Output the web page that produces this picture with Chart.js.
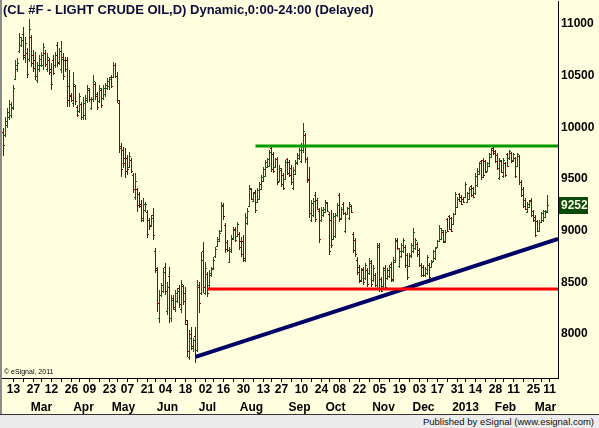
<!DOCTYPE html>
<html>
<head>
<meta charset="utf-8">
<script src="https://cdn.jsdelivr.net/npm/chart.js@4.4.1/dist/chart.umd.min.js"></script>
<style>
html, body { margin: 0; padding: 0; background: #ffffe0; overflow: hidden; }
#wrap { position: absolute; left: 0; top: 0; width: 597px; height: 414px; border-left: 2px solid #8c8c8c; }
#footer { position: absolute; left: 0; top: 414px; width: 599px; height: 13px; background: #ececec; border-top: 1px solid #333;
  font: 9.5px 'Liberation Sans', Arial, sans-serif; color: #111; text-align: right; line-height: 13px; }
#footer span { margin-right: 5px; }
</style>
</head>
<body>
<div id="wrap"><canvas id="chart" width="597" height="414"></canvas></div>
<div id="footer"><span>Published by eSignal (www.esignal.com)</span></div>
<script>
// --- Data (daily bars, price x100) ---
const opens = [
  9950,9930,10020,10100,10120,10190,10470,10560,10740,10800,
  10900,10680,10720,10660,10870,10700,10650,10460,10560,10600,
  10600,10720,10560,10650,10560,10650,10600,10800,10630,10560,
  10680,10650,10650,10400,10310,10240,10400,10200,10160,10230,
  10100,10120,10260,10360,10190,10270,10420,10320,10250,10360,
  10280,10320,10380,10400,10490,10490,10600,10500,10240,9800,
  9780,9700,9700,9620,9680,9540,9330,9400,9350,9260,
  9100,9200,9180,9100,9050,9150,8800,8620,8150,8380,
  8420,8650,8220,8560,8150,8350,8240,8320,8440,8240,
  8460,8400,8100,7780,8000,7860,7980,7840,8450,8400,
  8800,8400,8580,8470,8570,8640,8750,8850,8900,9000,
  9250,9050,8890,8700,8800,8920,9020,8950,8970,8900,
  8900,8720,9070,9240,9400,9290,9370,9280,9310,9400,
  9480,9530,9620,9630,9800,9740,9620,9690,9480,9590,
  9540,9500,9690,9660,9610,9410,9550,9650,9700,9670,
  9780,9930,9690,9500,9100,9150,9340,9300,9190,9100,
  9150,9180,9270,9160,9100,8920,8950,9150,9340,9120,
  9260,9000,9160,9120,9240,8970,8910,8720,8650,8520,
  8630,8540,8620,8590,8690,8520,8570,8470,8860,8530,
  8460,8640,8540,8560,8680,8520,8700,8910,8660,8750,
  8800,8840,8760,8660,8750,8800,8830,8870,8810,8670,
  8650,8570,8590,8670,8650,8710,8730,8840,8900,8920,
  8990,8890,9110,9140,9120,9060,9160,9230,9350,9330,
  9310,9330,9280,9310,9430,9410,9360,9440,9550,9670,
  9680,9670,9580,9630,9710,9800,9770,9730,9510,9670,
  9530,9650,9740,9700,9750,9680,9700,9630,9720,9470,
  9400,9300,9180,9230,9300,9190,9130,9090,9000,9080,
  9100,9130,9180
];
const highs = [
  9993,10100,10187,10264,10245,10410,10652,10671,10913,10874,
  10971,10874,10768,11048,10894,10748,10729,10632,10700,10729,
  10816,10748,10720,10671,10622,10700,10729,10826,10768,10836,
  10720,10681,10681,10555,10332,10535,10410,10216,10332,10245,
  10293,10313,10410,10380,10293,10506,10439,10342,10410,10380,
  10410,10429,10477,10487,10506,10632,10622,10535,10264,9848,
  9810,9800,9732,9761,9703,9558,9558,9412,9374,9296,
  9316,9277,9200,9122,9152,9219,8832,8648,8425,8493,
  8638,8687,8503,8648,8377,8377,8425,8445,8474,8522,
  8474,8454,8135,8038,8067,7961,8067,8522,8503,8793,
  8890,8696,8599,8618,8647,8744,8841,8938,9006,9277,
  9267,9073,8909,8841,8957,9035,9035,9083,8986,8938,
  8957,9170,9219,9441,9412,9373,9393,9412,9470,9538,
  9615,9683,9703,9780,9828,9761,9703,9712,9635,9606,
  9557,9683,9703,9683,9635,9615,9683,9751,9799,9848,
  10041,9945,9712,9615,9296,9315,9373,9315,9219,9228,
  9228,9296,9277,9180,9199,9170,9170,9267,9364,9228,
  9277,9180,9228,9277,9248,8986,8928,8744,8667,8638,
  8647,8686,8638,8735,8715,8667,8589,8880,8880,8551,
  8647,8667,8638,8667,8696,8744,8928,8928,8831,8880,
  8928,8860,8783,8783,8880,9025,8928,8889,8831,8686,
  8667,8647,8764,8686,8715,8812,8841,8909,9054,9025,
  9006,9006,9122,9151,9131,9170,9373,9325,9364,9344,
  9325,9470,9373,9422,9441,9422,9557,9606,9664,9683,
  9703,9683,9664,9751,9799,9809,9780,9751,9703,9683,
  9703,9664,9751,9780,9761,9751,9712,9751,9732,9490,
  9422,9315,9277,9296,9315,9199,9151,9102,9102,9180,
  9199,9199,9344
];
const lows = [
  9722,9906,9993,10071,10090,10168,10458,10535,10720,10777,
  10652,10622,10477,10632,10584,10535,10458,10429,10535,10584,
  10555,10584,10535,10506,10361,10506,10574,10584,10603,10526,
  10458,10535,10197,10197,10245,10197,10216,10100,10139,10071,
  10071,10071,10235,10245,10168,10245,10264,10168,10235,10187,
  10264,10293,10361,10361,10380,10477,10477,10235,9752,9519,
  9606,9510,9538,9606,9558,9364,9296,9180,9219,9084,
  9084,9180,8929,9006,9035,8909,8590,8212,8106,8358,
  8396,8377,8183,8106,8116,8232,8212,8299,8251,8203,
  8280,8086,7777,7748,7844,7825,7719,7825,8203,8377,
  8396,8376,8357,8444,8551,8618,8735,8841,8889,8986,
  9102,8783,8793,8686,8783,8909,8889,8938,8812,8744,
  8696,8696,9054,9228,9296,9277,9170,9267,9296,9393,
  9470,9519,9606,9615,9567,9557,9606,9441,9470,9422,
  9393,9490,9538,9519,9441,9393,9538,9635,9683,9654,
  9751,9654,9461,9122,9083,9131,9083,9199,8880,9083,
  9131,9170,9180,8764,8831,8909,8928,9131,9083,9102,
  9151,8977,9151,9102,9170,8783,8744,8570,8493,8502,
  8473,8522,8454,8570,8454,8502,8454,8444,8405,8405,
  8444,8425,8522,8541,8502,8502,8686,8812,8638,8735,
  8783,8638,8522,8647,8735,8783,8812,8744,8647,8551,
  8551,8551,8570,8522,8638,8696,8715,8831,8889,8909,
  8880,8880,8986,9006,8986,9054,9151,9219,9277,9248,
  9267,9315,9267,9296,9325,9315,9344,9422,9538,9490,
  9509,9557,9567,9615,9703,9732,9654,9586,9490,9557,
  9509,9519,9615,9683,9654,9664,9509,9615,9441,9325,
  9219,9199,9170,9219,9131,9083,8938,8986,8986,9073,
  9083,9122,9170
];
const closes = [
  9830,10060,10150,10230,10200,10380,10600,10620,10870,10850,
  10700,10820,10520,10950,10620,10570,10500,10600,10660,10700,
  10780,10610,10680,10540,10420,10530,10700,10620,10740,10660,
  10500,10560,10260,10300,10260,10420,10250,10120,10300,10100,
  10240,10280,10380,10270,10270,10450,10300,10200,10380,10220,
  10380,10410,10450,10470,10400,10600,10500,10260,9820,9600,
  9650,9580,9600,9720,9580,9400,9480,9250,9240,9120,
  9260,9260,8970,9040,9120,8960,8640,8300,8380,8470,
  8600,8420,8450,8150,8330,8260,8400,8420,8290,8480,
  8320,8130,7830,7960,7880,7940,7780,8470,8300,8720,
  8450,8640,8400,8590,8630,8720,8820,8920,8980,9240,
  9140,8820,8810,8820,8930,9010,8910,9060,8840,8770,
  8730,9130,9190,9410,9310,9360,9200,9390,9450,9520,
  9600,9660,9690,9760,9600,9580,9690,9470,9610,9450,
  9410,9660,9560,9540,9470,9590,9660,9730,9780,9820,
  9960,9690,9490,9170,9270,9290,9110,9210,8920,9200,
  9210,9280,9190,8800,8860,9140,9150,9250,9110,9210,
  9170,9160,9220,9260,9180,8810,8770,8600,8510,8620,
  8500,8670,8480,8710,8480,8640,8470,8840,8440,8420,
  8620,8450,8620,8650,8530,8720,8900,8830,8800,8860,
  8910,8670,8550,8760,8860,8990,8910,8770,8670,8570,
  8570,8630,8740,8550,8700,8800,8830,8900,9030,9010,
  8900,8990,9000,9020,9000,9160,9350,9310,9290,9260,
  9280,9450,9360,9400,9340,9330,9530,9580,9650,9520,
  9540,9570,9650,9740,9780,9750,9670,9610,9680,9570,
  9680,9540,9630,9770,9670,9740,9530,9740,9470,9340,
  9240,9210,9260,9290,9150,9100,8960,9000,9080,9170,
  9190,9190,9252
];

// drawn study lines (bar index / price)
const resistX = [126, 277.25], resistY = [9819, 9819];
const supportX = [102, 277.25], supportY = [8435, 8435];
const trendX = [96, 277.25], trendY = [7777, 8919];

// axis ticks (bar index positions)
const dayTickIdx = [5,15,24,34,43,53,62,72,81,91,101,110,120,130,139,149,159,168,178,188,198,208,217,227,236,246,255,265,273];
const dayTickLbl = ['13','27','12','26','09','23','07','21','04','18','02','16','30','13','27','10','24','08','22','05','19','03','17','31','14','28','11','25','11'];
const weekTickIdx = [10,19,29,38,48,57,67,76,86,96,105,115,125,134,144,154,163,173,183,193,203,212,222,231,241,250,260,269];
const monthIdx = [19,40,60,82,102,124,148,166,190,210,231,251,271];
const monthLbl = ['Mar','Apr','May','Jun','Jul','Aug','Sep','Oct','Nov','Dec','2013','Feb','Mar'];
const yTicks = [8000, 8500, 9000, 9500, 10000, 10500, 11000];

const TITLE = '(CL #F - LIGHT CRUDE OIL,D) Dynamic,0:00-24:00 (Delayed)';
const FONT = "'Liberation Sans', Arial, sans-serif";
const UP = '#006400', DOWN = '#8b0000';
const X_MIN = -0.75, X_MAX = 277.25, Y_MIN = 7573, Y_MAX = 11223;

const bars = opens.map((o, i) => ({ x: i, y: [lows[i], highs[i]] }));
const barColors = opens.map((o, i) => closes[i] >= o ? UP : DOWN);
const pts = (xs, ys) => xs.map((v, i) => ({ x: v, y: ys[i] }));
const lastPrice = closes[closes.length - 1];

const allTicks = dayTickIdx.concat(weekTickIdx).sort((a, b) => a - b);

// no label overhang padding, so the plot keeps the full height
const noPad = s => { s.paddingTop = 0; s.paddingBottom = 0; s.paddingLeft = 0; s.paddingRight = 0; };

// open/close side ticks
const ohlcTicks = {
    id: 'ohlcTicks',
    afterDatasetDraw(chart, args) {
        if (args.index !== 0) return;
        const { ctx, scales: { x, y } } = chart;
        ctx.save();
        opens.forEach((o, i) => {
            const px = Math.round(x.getPixelForValue(i) - 0.5);
            ctx.fillStyle = barColors[i];
            ctx.fillRect(px - 1, Math.round(y.getPixelForValue(o)), 1, 1);
            ctx.fillRect(px + 1, Math.round(y.getPixelForValue(closes[i])), 1, 1);
        });
        ctx.restore();
    }
};

// title, copyright, last price box
const overlay = {
    id: 'overlay',
    afterDraw(chart) {
        const { ctx, chartArea, scales: { y } } = chart;
        ctx.save();
        ctx.textAlign = 'left';
        ctx.textBaseline = 'middle';
        ctx.fillStyle = '#0c0c3c';
        ctx.font = `bold 13px ${FONT}`;
        ctx.fillText(TITLE, 1, 10);
        ctx.fillStyle = '#000';
        ctx.font = `7px ${FONT}`;
        ctx.fillText('\u00a9 eSignal, 2011', 2, 372);
        const yy = Math.round(y.getPixelForValue(lastPrice));
        ctx.fillStyle = '#0b4a0b';
        ctx.fillRect(chartArea.right + 1, yy - 8, 29, 17);
        ctx.fillStyle = '#ffffe0';
        ctx.font = `bold 12px ${FONT}`;
        ctx.fillText(String(lastPrice), chartArea.right + 3, yy + 1);
        ctx.restore();
    }
};

new Chart(document.getElementById('chart').getContext('2d'), {
    type: 'bar',
    data: {
        datasets: [
            { type: 'bar', data: bars, backgroundColor: barColors, barThickness: 1, inflateAmount: 0, borderWidth: 0, order: 3 },
            { type: 'line', data: pts(resistX, resistY), borderColor: '#009a00', borderWidth: 3, pointRadius: 0, tension: 0, order: 1 },
            { type: 'line', data: pts(supportX, supportY), borderColor: '#ff0000', borderWidth: 3, pointRadius: 0, tension: 0, order: 1 },
            { type: 'line', data: pts(trendX, trendY), borderColor: '#000066', borderWidth: 4, pointRadius: 0, tension: 0, order: 1 }
        ]
    },
    options: {
        responsive: false,
        animation: false,
        events: [],
        layout: { padding: { top: 1, left: 0, right: 0, bottom: 0 } },
        plugins: { legend: { display: false }, tooltip: { enabled: false } },
        scales: {
            x: {
                type: 'linear', position: 'bottom', min: X_MIN, max: X_MAX, offset: false,
                afterBuildTicks: s => { s.ticks = allTicks.map(v => ({ value: v })); },
                afterFit: s => { s.height = 18; noPad(s); },
                grid: { display: true, drawOnChartArea: false, drawTicks: true, tickLength: 4, color: '#000', offset: false },
                border: { display: true, color: '#000', width: 1 },
                ticks: {
                    autoSkip: false, maxRotation: 0, minRotation: 0, padding: 0, color: '#000',
                    font: { family: FONT, size: 12, weight: 'bold' },
                    callback: v => { const k = dayTickIdx.indexOf(v); return k < 0 ? '' : dayTickLbl[k]; }
                }
            },
            xm: {
                type: 'linear', position: 'bottom', weight: 1, min: X_MIN, max: X_MAX, offset: false,
                afterBuildTicks: s => { s.ticks = monthIdx.map(v => ({ value: v })); },
                afterFit: s => { s.height = 18; noPad(s); },
                grid: { display: false, drawTicks: false },
                border: { display: false },
                ticks: {
                    autoSkip: false, maxRotation: 0, minRotation: 0, padding: 4, color: '#000',
                    font: { family: FONT, size: 12, weight: 'bold' },
                    callback: v => { const k = monthIdx.indexOf(v); return k < 0 ? '' : monthLbl[k]; }
                }
            },
            y: {
                type: 'linear', position: 'right', min: Y_MIN, max: Y_MAX,
                afterBuildTicks: s => { s.ticks = yTicks.map(v => ({ value: v })); },
                afterFit: s => { s.width = 41; noPad(s); },
                grid: { display: false, drawTicks: false },
                border: { display: true, color: '#000', width: 1 },
                ticks: { padding: 3, color: '#000', font: { family: FONT, size: 12, weight: 'bold' }, callback: v => String(v) }
            }
        }
    },
    plugins: [ohlcTicks, overlay]
});
</script>
</body>
</html>
